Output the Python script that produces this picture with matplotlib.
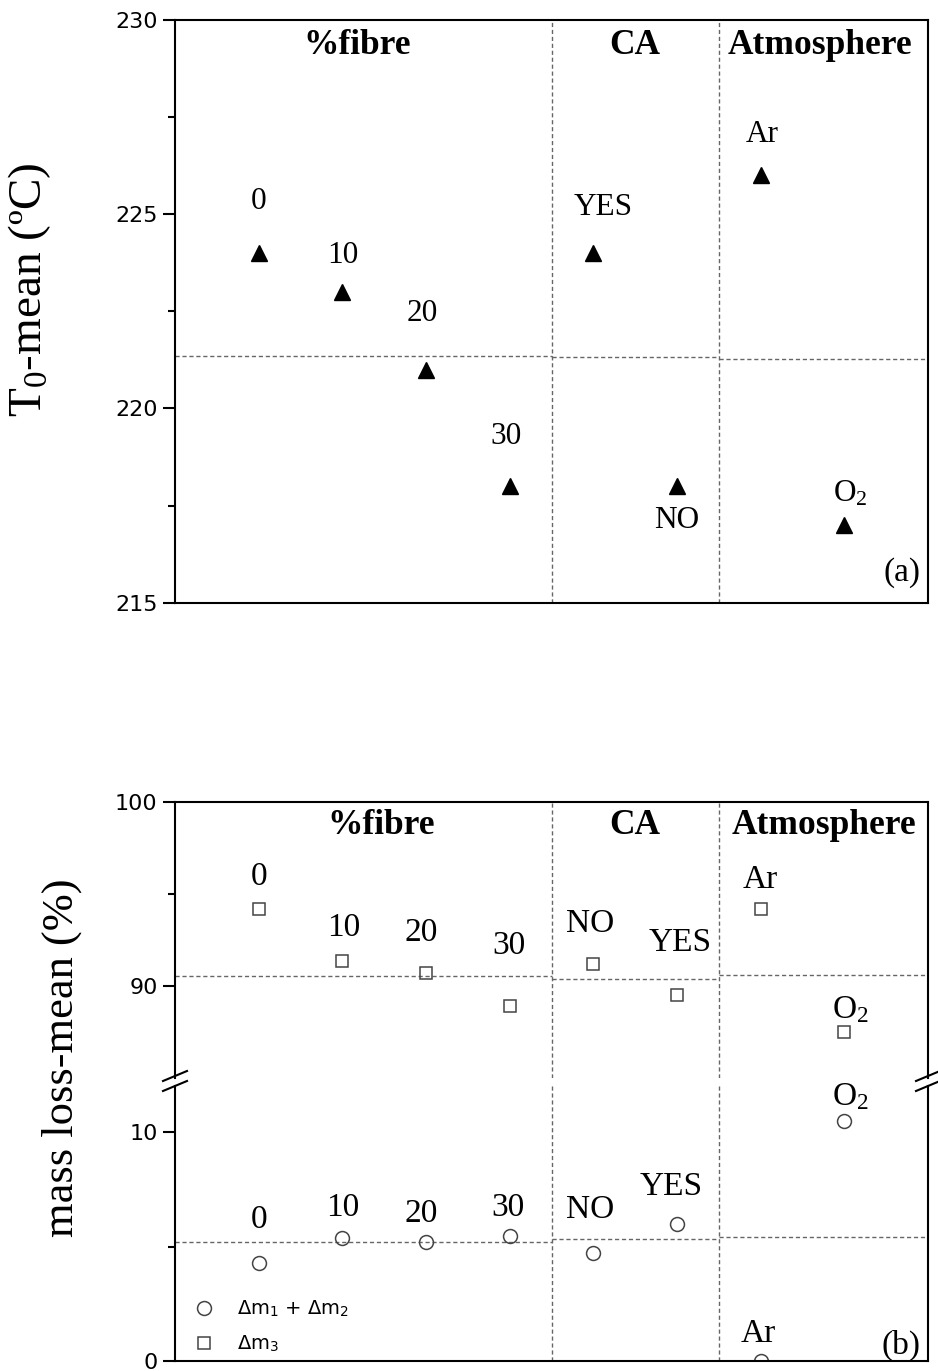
import matplotlib
matplotlib.use("Agg")
from matplotlib import pyplot as plt
from matplotlib import transforms
from matplotlib.lines import Line2D

plt.rcParams["mathtext.fontset"] = "custom"
plt.rcParams["mathtext.rm"] = "Liberation Serif"
plt.rcParams["mathtext.it"] = "Liberation Serif:italic"
plt.rcParams["mathtext.sf"] = "DejaVu Sans"

# sample positions along x (one per condition) and the three groups
positions = [1, 2, 3, 4, 5, 6, 7, 8]
sections = ["%fibre", "CA", "Atmosphere"]
section_bounds = [0, 4.5, 6.5, 9]

# (a) onset temperature
t0_labels = ["0", "10", "20", "30", "YES", "NO", "Ar", "O$_2$"]
t0_mean = [224, 223, 221, 218, 224, 218, 226, 217]
t0_ref = [221.35, 221.33, 221.28]

# (b) mass loss
ml_labels = ["0", "10", "20", "30", "NO", "YES", "Ar", "O$_2$"]
dm3 = [94.2, 91.4, 90.7, 88.95, 91.2, 89.5, 94.2, 87.5]
dm12 = [4.29, 5.38, 5.2, 5.48, 4.73, 5.97, 0.0, 10.46]
dm3_ref = [90.58, 90.40, 90.64]
dm12_ref = [5.2, 5.34, 5.41]

# label offsets in pixels (styling only)
t0_off = [(0, 52), (1, 36), (-4, 56), (-4, 50), (10, 46), (0, -34), (2, 41), (6, 31)]
dm3_off = [(0, 32), (1, 33), (-5, 41), (-1, 60), (-3, 40), (3, 53), (0, 29), (6, 22)]
dm12_off = [(0, 43), (0, 30), (-5, 28), (-2, 28), (-3, 43), (-6, 38), (-2, 28), (6, 24)]

SERIF = "Liberation Serif"
SANS = "DejaVu Sans"
DASH = dict(color="#666666", lw=1.0, linestyle=(0, (3, 2)))
GREY = "#444444"

fig = plt.figure(figsize=(9.38, 13.71), dpi=100)
ax_a = fig.add_axes([0.1866, 0.5604, 0.8028, 0.4250])
ax_b1 = fig.add_axes([0.1866, 0.2135, 0.8028, 0.2013])
ax_b2 = fig.add_axes([0.1866, 0.0071, 0.8028, 0.2008])


def style_axis(ax, major, minor, lim):
    ax.set_xlim(0, 9)
    ax.set_ylim(*lim)
    ax.set_xticks([])
    ax.set_yticks(major)
    ax.set_yticks(minor, minor=True)
    ax.tick_params(axis="y", which="major", direction="out", length=8.5, width=1.5,
                   labelsize=16, pad=4)
    ax.tick_params(axis="y", which="minor", direction="out", length=5, width=1.5)
    for lab in ax.get_yticklabels():
        lab.set_family(SANS)
    for s in ax.spines.values():
        s.set_linewidth(1.5)
    for xv in section_bounds[1:-1]:
        ax.axvline(xv, **DASH)


def headers(ax, ypos, xs):
    tr = transforms.blended_transform_factory(ax.transData, ax.transAxes)
    for name, xv in zip(sections, xs):
        ax.text(xv, ypos, name, transform=tr, ha="center", va="center",
                family=SERIF, weight="bold", fontsize=25.5)


def ref_lines(ax, refs):
    for i, r in enumerate(refs):
        ax.hlines(r, section_bounds[i], section_bounds[i + 1], **DASH)


def point_labels(ax, ys, labels, offs, size):
    for xv, yv, lab, off in zip(positions, ys, labels, offs):
        ax.annotate(lab, (xv, yv), xytext=off, textcoords="offset pixels",
                    ha="center", va="center", family=SERIF, fontsize=size)


# ---- (a)
style_axis(ax_a, [215, 220, 225, 230], [217.5, 222.5, 227.5], (215, 230))
ref_lines(ax_a, t0_ref)
ax_a.plot(positions, t0_mean, "^", color="k", ms=11.5, linestyle="none")
point_labels(ax_a, t0_mean, t0_labels, t0_off, 22.5)
headers(ax_a, 0.957, [2.18, 5.49, 7.71])
ax_a.text(0.99, 0.051, "(a)", transform=ax_a.transAxes, ha="right", va="center",
          family=SERIF, fontsize=24)
fig.text(0.032, 1 - 290 / 1371, "T$_0$-mean (ºC)", rotation=90, ha="center",
         va="center", family=SERIF, fontsize=34)

# ---- (b) broken axis
style_axis(ax_b1, [90, 100], [95], (85, 100))
style_axis(ax_b2, [0, 10], [5], (0, 12.0))
ax_b1.spines["bottom"].set_visible(False)
ax_b2.spines["top"].set_visible(False)

ref_lines(ax_b1, dm3_ref)
ref_lines(ax_b2, dm12_ref)
ax_b1.plot(positions, dm3, "s", mfc="none", mec=GREY, ms=9, mew=1.1, linestyle="none")
ax_b2.plot(positions, dm12, "o", mfc="none", mec=GREY, ms=10, mew=1.1, linestyle="none")
point_labels(ax_b1, dm3, ml_labels, dm3_off, 24)
point_labels(ax_b2, dm12, ml_labels, dm12_off, 24)
headers(ax_b1, 0.9156, [2.46, 5.5, 7.76])
ax_b2.text(0.99, 0.057, "(b)", transform=ax_b2.transAxes, ha="right", va="center",
           family=SERIF, fontsize=24)
fig.text(0.066, 1 - 1058 / 1371, "mass loss-mean (%)", rotation=90, ha="center",
         va="center", family=SERIF, fontsize=32)

# break marks on both spines
W, H = 938.0, 1371.0
for xpix in (175, 928):
    for ycen in (1076, 1086):
        fig.add_artist(Line2D([(xpix - 12) / W, (xpix + 12) / W],
                              [1 - (ycen + 5) / H, 1 - (ycen - 5) / H],
                              color="k", lw=1.5))

handles = [
    Line2D([], [], marker="o", mfc="none", mec=GREY, ms=10, mew=1.1, linestyle="none"),
    Line2D([], [], marker="s", mfc="none", mec=GREY, ms=9, mew=1.1, linestyle="none"),
]
ax_b2.legend(handles, ["Δm$_\\mathsf{1}$ + Δm$_\\mathsf{2}$", "Δm$_\\mathsf{3}$"],
             loc="lower left", bbox_to_anchor=(0.0252, 0.025), frameon=False,
             handlelength=1.0, handletextpad=1.2, labelspacing=0.75,
             borderpad=0, borderaxespad=0, prop={"family": SANS, "size": 14})

fig.savefig("out.png", dpi=100)
